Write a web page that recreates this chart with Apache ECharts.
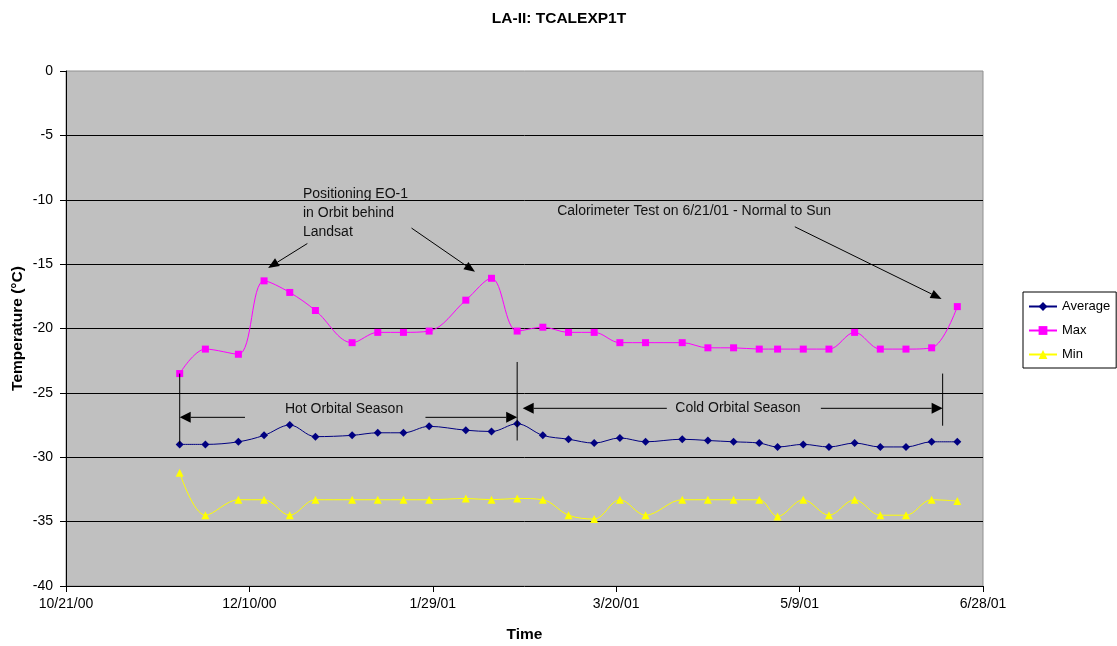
<!DOCTYPE html>
<html>
<head>
<meta charset="utf-8">
<script src="https://cdn.jsdelivr.net/npm/echarts@6/dist/echarts.min.js"></script>
<style>
  html, body { margin: 0; padding: 0; background: #ffffff; }
  #chart { width: 1117px; height: 646px; }
</style>
</head>
<body>
<div id="chart"></div>
<script>
// Weekly samples of the LA-II TCALEXP1T channel (°C)
const dates = [
  '11/21/00', '11/28/00', '12/7/00', '12/14/00', '12/21/00', '12/28/00',
  '1/7/01', '1/14/01', '1/21/01', '1/28/01', '2/7/01', '2/14/01',
  '2/21/01', '2/28/01', '3/7/01', '3/14/01', '3/21/01', '3/28/01',
  '4/7/01', '4/14/01', '4/21/01', '4/28/01', '5/3/01', '5/10/01',
  '5/17/01', '5/24/01', '5/31/01', '6/7/01', '6/14/01', '6/21/01'
];
const averageValues = [
  -29.0, -29.0, -28.8, -28.3, -27.5, -28.4, -28.3, -28.1, -28.1, -27.6,
  -27.9, -28.0, -27.4, -28.3, -28.6, -28.9, -28.5, -28.8, -28.6, -28.7,
  -28.8, -28.9, -29.2, -29.0, -29.2, -28.9, -29.2, -29.2, -28.8, -28.8
];
const maxValues = [
  -23.5, -21.6, -22.0, -16.3, -17.2, -18.6, -21.1, -20.3, -20.3, -20.2,
  -17.8, -16.1, -20.2, -19.9, -20.3, -20.3, -21.1, -21.1, -21.1, -21.5,
  -21.5, -21.6, -21.6, -21.6, -21.6, -20.3, -21.6, -21.6, -21.5, -18.3
];
const minValues = [
  -31.2, -34.5, -33.3, -33.3, -34.5, -33.3, -33.3, -33.3, -33.3, -33.3,
  -33.2, -33.3, -33.2, -33.3, -34.5, -34.8, -33.3, -34.5, -33.3, -33.3,
  -33.3, -33.3, -34.6, -33.3, -34.5, -33.3, -34.5, -34.5, -33.3, -33.4
];
const xTickLabels = ['10/21/00', '12/10/00', '1/29/01', '3/20/01', '5/9/01', '6/28/01'];

const FONT = 'Arial, "Liberation Sans", sans-serif';
const DAY_MS = 86400000;

function parseDate(s) {
  const [m, d, y] = s.split('/').map(Number);
  return Date.UTC(2000 + y, m - 1, d);
}
const origin = parseDate(xTickLabels[0]);
const dayOf = s => Math.round((parseDate(s) - origin) / DAY_MS);
const xDays = dates.map(dayOf);
const xEnd = dayOf(xTickLabels[xTickLabels.length - 1]);
const xStep = dayOf(xTickLabels[1]);

const pairs = vals => xDays.map((d, i) => [d, vals[i]]);

const chart = echarts.init(document.getElementById('chart'), null, { renderer: 'canvas' });

const lineSeries = (name, vals, color, symbol, size) => ({
  name: name,
  type: 'line',
  data: pairs(vals),
  smooth: 0.35,
  symbol: symbol,
  symbolSize: size,
  showAllSymbol: true,
  lineStyle: { color: color, width: 1 },
  itemStyle: { color: color },
  emphasis: { disabled: true },
  z: 3
});

chart.setOption({
  animation: false,
  backgroundColor: '#ffffff',
  title: {
    text: 'LA-II: TCALEXP1T',
    left: 554, top: 6, textAlign: 'center',
    textStyle: { fontFamily: FONT, fontSize: 15.5, fontWeight: 'bold', color: '#000' }
  },
  legend: {
    orient: 'vertical',
    left: 1023, top: 292,
    padding: [8, 6, 7, 5],
    itemWidth: 28, itemHeight: 11, itemGap: 11,
    borderColor: '#000', borderWidth: 1,
    backgroundColor: '#ffffff',
    textStyle: { fontFamily: FONT, fontSize: 13, color: '#000' },
    data: ['Average', 'Max', 'Min']
  },
  grid: {
    left: 66, right: 134, top: 71, bottom: 60,
    outerBoundsMode: 'none',
    show: true, backgroundColor: '#c0c0c0',
    borderColor: '#909090', borderWidth: 1
  },
  xAxis: {
    type: 'value',
    min: 0, max: xEnd, interval: xStep,
    name: 'Time', nameLocation: 'middle', nameGap: 41,
    nameTextStyle: { fontFamily: FONT, fontSize: 15.5, fontWeight: 'bold', color: '#000' },
    axisLine: { onZero: false, lineStyle: { color: '#000', width: 1 } },
    axisTick: { show: true, length: 6, lineStyle: { color: '#000' } },
    axisLabel: {
      margin: 11, fontFamily: FONT, fontSize: 14, color: '#000',
      formatter: v => xTickLabels[Math.round(v / xStep)] || ''
    },
    splitLine: { show: false }
  },
  yAxis: {
    type: 'value',
    min: -40, max: 0, interval: 5,
    name: 'Temperature (°C)', nameLocation: 'middle', nameGap: 40,
    nameMoveOverlap: false,
    nameTextStyle: { fontFamily: FONT, fontSize: 15.5, fontWeight: 'bold', color: '#000' },
    axisLine: { show: true, onZero: false, lineStyle: { color: '#000', width: 1 } },
    axisTick: { show: true, length: 6, lineStyle: { color: '#000' } },
    axisLabel: { margin: 13, fontFamily: FONT, fontSize: 14, color: '#000' },
    splitLine: { show: true, showMaxLine: false, showMinLine: false, lineStyle: { color: '#000', width: 1 } }
  },
  tooltip: { show: false },
  series: [
    lineSeries('Average', averageValues, '#000080', 'diamond', 8),
    lineSeries('Max', maxValues, '#ff00ff', 'rect', 7),
    lineSeries('Min', minValues, '#ffff00', 'triangle', 8)
  ]
});

// ---- annotations (anchored in data space: [day offset, °C]) ----
const toPx = (d, v) => chart.convertToPixel({ gridIndex: 0 }, [d, v]);
const gfx = [];

function segment(a, b) {
  const p = toPx(a[0], a[1]), q = toPx(b[0], b[1]);
  gfx.push({ type: 'line', shape: { x1: p[0], y1: p[1], x2: q[0], y2: q[1] },
             style: { stroke: '#000', lineWidth: 1 }, z: 10 });
}
function arrow(from, to, len, half) {
  const p = toPx(from[0], from[1]), q = toPx(to[0], to[1]);
  const dx = q[0] - p[0], dy = q[1] - p[1];
  const L = Math.hypot(dx, dy), ux = dx / L, uy = dy / L;
  const bx = q[0] - ux * len, by = q[1] - uy * len;
  gfx.push({ type: 'line', shape: { x1: p[0], y1: p[1], x2: bx, y2: by },
             style: { stroke: '#000', lineWidth: 1 }, z: 10 });
  gfx.push({ type: 'polygon', shape: { points: [
      [q[0], q[1]], [bx - uy * half, by + ux * half], [bx + uy * half, by - ux * half]
    ] }, style: { fill: '#000' }, z: 10 });
}
function label(at, text, align, vAlign, lh) {
  const p = toPx(at[0], at[1]);
  gfx.push({ type: 'text', x: p[0], y: p[1], z: 11,
    style: { text: text, fill: '#111', font: '14px ' + FONT,
             align: align, verticalAlign: vAlign, lineHeight: lh || 19 } });
}

const hotStart = xDays[0];
const hotEnd = dayOf('2/21/01');

// Orbit positioning note
label([64.6, -8.8], 'Positioning EO-1\nin Orbit behind\nLandsat', 'left', 'top', 19);
arrow([65.8, -13.4], [55.1, -15.3], 11, 4.5);
arrow([94.2, -12.2], [111.5, -15.6], 11, 4.5);

// Calorimeter test note
label([133.9, -10.9], 'Calorimeter Test on 6/21/01 - Normal to Sun', 'left', 'middle');
arrow([198.7, -12.1], [238.7, -17.7], 11, 4.5);

// Hot orbital season bracket
segment([hotStart, maxValues[0]], [hotStart, averageValues[0]]);
segment([hotEnd, -22.6], [hotEnd, -28.7]);
arrow([48.8, -26.9], [hotStart, -26.9], 11, 5.5);
arrow([98.0, -26.9], [hotEnd, -26.9], 11, 5.5);
label([75.8, -26.25], 'Hot Orbital Season', 'center', 'middle');

// Cold orbital season bracket
segment([239, -23.5], [239, -27.55]);
arrow([163.8, -26.2], [124.5, -26.2], 11, 5.5);
arrow([205.8, -26.2], [239, -26.2], 11, 5.5);
label([183.2, -26.2], 'Cold Orbital Season', 'center', 'middle');

chart.setOption({ graphic: gfx });
</script>
</body>
</html>
